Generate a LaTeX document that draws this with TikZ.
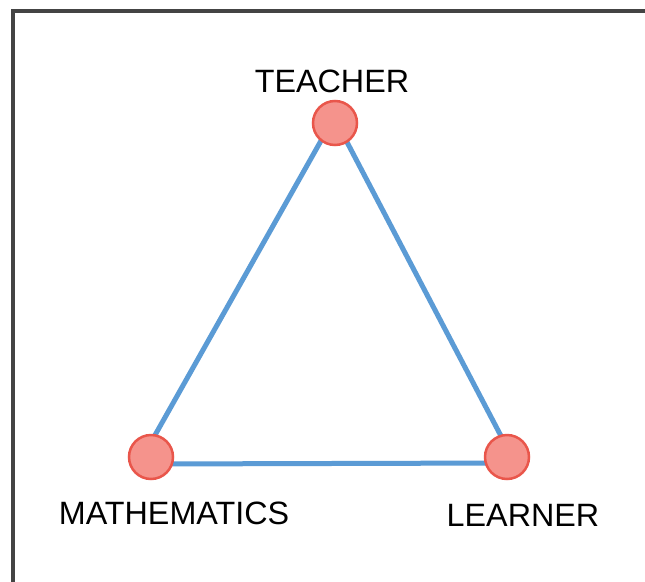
\documentclass[tikz,border=0pt]{standalone}
\usepackage{fontspec}
\setmainfont{Liberation Sans}
\usetikzlibrary{backgrounds}
\definecolor{edgeblue}{HTML}{5B9BD5}
\definecolor{dotfill}{HTML}{F5938C}
\definecolor{dotline}{HTML}{E9564B}
\definecolor{framegray}{HTML}{444444}
\tikzset{
  vertex/.style={circle, fill=dotfill, draw=dotline, line width=2.5pt, minimum size=44pt, inner sep=0pt},
  edge/.style={draw=edgeblue, line width=5pt},
  lbl/.style={anchor=base, inner sep=0pt, font=\fontsize{32.3}{37}\selectfont},
}
\begin{document}
\begin{tikzpicture}[x=1pt,y=-1pt]
\useasboundingbox (0,0) rectangle (645,581);
\clip (0,0) rectangle (645,581);
\coordinate (fb) at (13,600);
\coordinate (fc) at (13,11);
\coordinate (fr) at (660,11);
\draw[framegray, line width=4pt] (fb) -- (fc) -- (fr);
% vertices
\node[vertex] (t) at (335,123) {};
\node[vertex] (m) at (151,457) {};
\node[vertex] (l) at (507,457) {};
% edges (behind vertices)
\begin{pgfonlayer}{background}
\fill[white] (0,0) rectangle (645,581);
\path[edge] ([xshift=-4pt]t.center) -- ([xshift=-10pt,yshift=-3pt]m.center);
\path[edge] ([xshift=2pt]t.center) -- ([xshift=5pt]l.center);
\path[edge] ([yshift=-7pt]m.center) -- ([yshift=-6pt]l.center);
\end{pgfonlayer}
% labels
\node[lbl] (tl) at (332,92) {TEACHER};
\node[lbl] (ml) at (174,524) {MATHEMATICS};
\node[lbl] (ll) at (523,526) {LEARNER};
\end{tikzpicture}
\end{document}
